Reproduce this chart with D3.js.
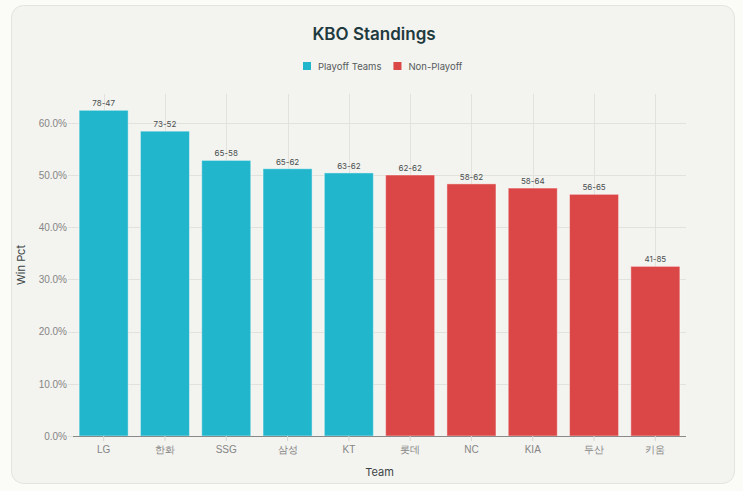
<!DOCTYPE html>
<html>
<head>
<meta charset="utf-8">
<script src="https://cdn.jsdelivr.net/npm/d3@7"></script>
<style>
  html, body { margin: 0; padding: 0; background: #fbfbf8; }
  svg { display: block; font-family: Inter, "Noto Sans CJK KR", sans-serif; }
</style>
</head>
<body>
<script>
// data
var teams = ["LG", "한화", "SSG", "삼성", "KT", "롯데", "NC", "KIA", "두산", "키움"];
var records = ["78-47", "73-52", "65-58", "65-62", "63-62", "62-62", "58-62", "58-64", "56-65", "41-85"];
var winPct = [0.624, 0.584, 0.528, 0.512, 0.504, 0.500, 0.483, 0.475, 0.463, 0.325];
var playoff = [true, true, true, true, true, false, false, false, false, false];
var yTicks = [0, 0.1, 0.2, 0.3, 0.4, 0.5, 0.6];
var legendItems = ["Playoff Teams", "Non-Playoff"];

var width = 743;
var height = 491;
var colors = { playoff: "#21b6cc", non: "#db4646" };
var margin = { top: 94, right: 57, bottom: 55, left: 73 };

var svg = d3.select("body").append("svg")
    .attr("width", width)
    .attr("height", height);

// card
svg.append("rect")
    .attr("x", 11.5).attr("y", 5.5)
    .attr("width", 723).attr("height", 478)
    .attr("rx", 12)
    .attr("fill", "#f3f3ef")
    .attr("stroke", "#e4e4df");

svg.append("text")
    .attr("x", 374).attr("y", 40)
    .attr("text-anchor", "middle")
    .attr("font-size", 17)
    .attr("font-weight", 600)
    .attr("fill", "#1e3a3e")
    .text("KBO Standings");

var x = d3.scaleBand()
    .domain(teams)
    .range([margin.left, width - margin.right])
    .paddingInner(0.2)
    .paddingOuter(0.1);

var y = d3.scaleLinear()
    .domain([0, d3.max(winPct) * 1.05])
    .range([height - margin.bottom, margin.top]);

// legend
var legend = svg.append("g").attr("transform", "translate(303,66)");
var lx = 0;
legendItems.forEach(function(name, i) {
    var item = legend.append("g").attr("transform", "translate(" + lx + ",0)");
    item.append("rect")
        .attr("x", 0).attr("y", -4)
        .attr("width", 8).attr("height", 8)
        .attr("fill", i == 0 ? colors.playoff : colors.non);
    var t = item.append("text")
        .attr("x", 15).attr("y", 3.5)
        .attr("font-size", 9.5)
        .attr("fill", "#555b5c")
        .text(name);
    lx += 15 + t.node().getComputedTextLength() + 12;
});

// grid
var grid = svg.append("g");
grid.selectAll(".hgrid")
    .data(yTicks)
    .enter().append("line")
    .attr("x1", margin.left - 5)
    .attr("x2", width - margin.right)
    .attr("y1", function(d) { return Math.round(y(d)) + 0.5; })
    .attr("y2", function(d) { return Math.round(y(d)) + 0.5; })
    .attr("stroke", "#e2e1dc");
grid.selectAll(".vgrid")
    .data(teams)
    .enter().append("line")
    .attr("x1", function(d) { return Math.round(x(d) + x.bandwidth() / 2) + 0.5; })
    .attr("x2", function(d) { return Math.round(x(d) + x.bandwidth() / 2) + 0.5; })
    .attr("y1", margin.top)
    .attr("y2", height - margin.bottom)
    .attr("stroke", "#e2e1dc");

// bars
svg.append("g").selectAll("rect")
    .data(teams)
    .enter().append("rect")
    .attr("x", function(d) { return x(d); })
    .attr("y", function(d, i) { return y(winPct[i]); })
    .attr("width", x.bandwidth())
    .attr("height", function(d, i) { return y(0) - y(winPct[i]); })
    .attr("fill", function(d, i) { return playoff[i] ? colors.playoff : colors.non; })
    .attr("stroke", "#ffffff")
    .attr("stroke-opacity", 0.45)
    .attr("stroke-width", 1);

svg.append("g").selectAll("text")
    .data(teams)
    .enter().append("text")
    .attr("x", function(d) { return x(d) + x.bandwidth() / 2; })
    .attr("y", function(d, i) { return y(winPct[i]) - 4; })
    .attr("text-anchor", "middle")
    .attr("font-size", 8)
    .attr("fill", "#4a4f50")
    .text(function(d, i) { return records[i]; });

// axes
var yAxis = svg.append("g")
    .attr("transform", "translate(" + margin.left + ",0)")
    .call(d3.axisLeft(y).tickValues(yTicks).tickFormat(d3.format(".1%")).tickSize(0).tickPadding(6));
yAxis.select(".domain").remove();
yAxis.selectAll("text").attr("font-size", 10).attr("fill", "#858585").attr("font-family", null);

var xAxis = svg.append("g")
    .attr("transform", "translate(0," + (height - margin.bottom) + ")")
    .call(d3.axisBottom(x).tickSize(5).tickPadding(5));
xAxis.select(".domain")
    .attr("stroke", "#8a8a8a")
    .attr("d", "M" + margin.left + ",0.5H" + (width - margin.right));
xAxis.selectAll(".tick line").attr("stroke", "#d6d6d1");
xAxis.selectAll("text").attr("font-size", 10).attr("fill", "#858585").attr("font-family", null);

svg.append("text")
    .attr("x", (margin.left + width - margin.right) / 2)
    .attr("y", 476)
    .attr("text-anchor", "middle")
    .attr("font-size", 11)
    .attr("fill", "#3a4446")
    .text("Team");

svg.append("text")
    .attr("transform", "translate(25," + ((margin.top + height - margin.bottom) / 2) + ") rotate(-90)")
    .attr("text-anchor", "middle")
    .attr("font-size", 11)
    .attr("fill", "#3a4446")
    .text("Win Pct");
</script>
</body>
</html>
